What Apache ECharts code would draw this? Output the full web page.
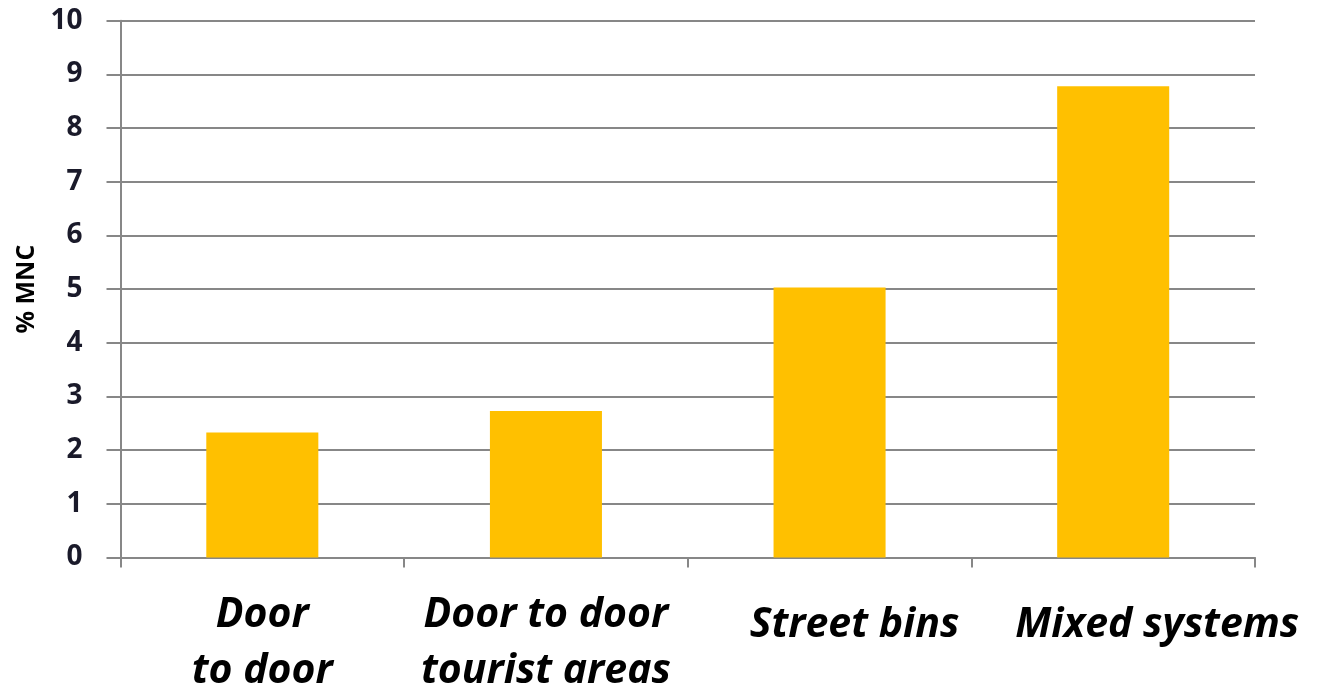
<!DOCTYPE html>
<html>
<head>
<meta charset="utf-8">
<script src="https://cdn.jsdelivr.net/npm/echarts@6/dist/echarts.min.js"></script>
<style>
html,body{margin:0;padding:0;background:#fff;}
#chart{width:1323px;height:695px;}
</style>
</head>
<body>
<div id="chart"></div>
<script>
const categories = ['Door\nto door', 'Door to door\ntourist areas', 'Street bins', 'Mixed systems'];
const values = [2.33, 2.73, 5.03, 8.78];
const yTicks = [0, 1, 2, 3, 4, 5, 6, 7, 8, 9, 10];
const yAxisName = '% MNC';

// per-label nudges (styling only)
const labelPadLeft = [0, 0, 50, 88];
const labelPadTop = [0, 0, 10, 10];

const chart = echarts.init(document.getElementById('chart'), null, {renderer: 'canvas'});
const GRID_COLOR = '#878787';
chart.setOption({
  animation: false,
  backgroundColor: '#ffffff',
  grid: {left: 120.5, right: 68, top: 20.7, bottom: 137.5, containLabel: false, outerBoundsMode: 'none'},
  xAxis: {
    type: 'category',
    data: categories.map((c, i) => ({
      value: c,
      textStyle: {padding: [labelPadTop[i], 0, 0, labelPadLeft[i]]}
    })),
    axisLine: {show: true, lineStyle: {color: GRID_COLOR, width: 2}},
    axisTick: {show: true, alignWithLabel: false, length: 10, lineStyle: {color: GRID_COLOR, width: 2}},
    axisLabel: {
      interval: 0,
      margin: 30,
      fontFamily: 'Open Sans',
      fontWeight: 'bold',
      fontStyle: 'italic',
      fontSize: 41,
      lineHeight: 56,
      color: '#000000'
    },
    splitLine: {show: false}
  },
  yAxis: {
    type: 'value',
    min: yTicks[0],
    max: yTicks[yTicks.length - 1],
    interval: 1,
    name: yAxisName,
    nameLocation: 'middle',
    nameGap: 76,
    nameRotate: 90,
    nameTextStyle: {fontFamily: 'Open Sans', fontWeight: 'bold', fontSize: 25, color: '#000000'},
    axisLine: {show: true, lineStyle: {color: GRID_COLOR, width: 2}},
    axisTick: {show: true, length: 14, lineStyle: {color: GRID_COLOR, width: 2}},
    axisLabel: {
      margin: 38,
      fontFamily: 'Open Sans',
      fontWeight: 'bold',
      fontSize: 28,
      color: '#1a1a2a'
    },
    splitLine: {show: true, lineStyle: {color: GRID_COLOR, width: 2}}
  },
  series: [{
    type: 'bar',
    data: values,
    barWidth: '39.5%',
    itemStyle: {color: '#FFC000'}
  }]
});
</script>
</body>
</html>
